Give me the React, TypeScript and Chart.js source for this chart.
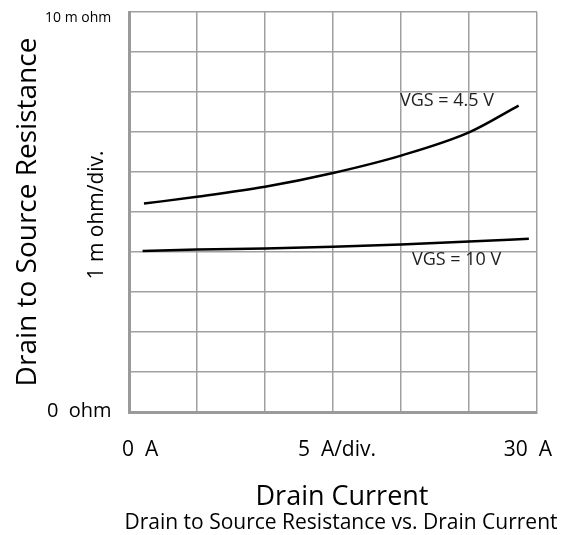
import React, { useEffect, useRef } from "react";
import { Chart, registerables } from "chart.js";

Chart.register(...registerables);

const currentA = [1.1, 5, 10, 15, 20, 25, 28.65];
const rdsVgs45 = [5.21, 5.38, 5.63, 5.975, 6.41, 6.99, 7.66];
const currentB = [1.0, 5, 10, 15, 20, 25, 29.4];
const rdsVgs10 = [4.025, 4.06, 4.09, 4.13, 4.19, 4.26, 4.33];
const seriesLabels = ["VGS = 4.5 V", "VGS = 10 V"];
const xTickLabels = ["0  A", "5  A/div.", "30  A"];
const yTickLabels = ["0  ohm", "10 m ohm"];
const xTitle = "Drain Current";
const yTitle = "Drain to Source Resistance";
const yDivLabel = "1 m ohm/div.";
const chartTitle = "Drain to Source Resistance vs. Drain Current";

const FONT = "'Open Sans', 'Noto Sans', sans-serif";

const textPlugin = {
  id: "textPlugin",
  afterDraw(chart: any) {
    const { ctx } = chart;
    const xs = chart.scales.x;
    const ys = chart.scales.y;
    ctx.save();
    ctx.fillStyle = "#000";
    ctx.textBaseline = "middle";
    // x tick labels
    ctx.font = `21px ${FONT}`;
    ctx.textAlign = "left";
    ctx.fillText(xTickLabels[0], xs.getPixelForValue(0) - 7, 450);
    ctx.textAlign = "center";
    ctx.fillText(xTickLabels[1], xs.getPixelForValue(15) + 4, 450);
    ctx.textAlign = "right";
    ctx.fillText(xTickLabels[2], xs.getPixelForValue(30) + 15, 450);
    // y tick labels
    ctx.textAlign = "left";
    ctx.font = `20px ${FONT}`;
    ctx.fillText(yTickLabels[0], 47, ys.getPixelForValue(0) - 1);
    ctx.font = `14px ${FONT}`;
    ctx.fillText(yTickLabels[1], 45, ys.getPixelForValue(10) + 6);
    // series labels
    ctx.font = `18px ${FONT}`;
    ctx.fillStyle = "#222";
    ctx.fillText(seriesLabels[0], 400, 101);
    ctx.fillText(seriesLabels[1], 412, 260);
    ctx.fillStyle = "#000";
    // titles
    ctx.textAlign = "center";
    ctx.font = `27px ${FONT}`;
    ctx.fillText(xTitle, 342, 497);
    ctx.font = `21px ${FONT}`;
    ctx.fillText(chartTitle, 341, 523);
    // rotated
    ctx.save();
    ctx.translate(28, 212);
    ctx.rotate(-Math.PI / 2);
    ctx.font = `28px ${FONT}`;
    ctx.fillText(yTitle, 0, 0);
    ctx.restore();
    ctx.save();
    ctx.translate(97, 215);
    ctx.rotate(-Math.PI / 2);
    ctx.font = `21px ${FONT}`;
    ctx.fillText(yDivLabel, 0, 0);
    ctx.restore();
    ctx.restore();
  },
};

export default function App() {
  const ref = useRef<HTMLCanvasElement>(null);
  useEffect(() => {
    document.body.style.margin = "0";
    const chart = new Chart(ref.current!, {
      type: "line",
      data: {
        datasets: [
          {
            label: seriesLabels[0],
            data: currentA.map((x, i) => ({ x, y: rdsVgs45[i] })),
            borderColor: "#000",
            borderWidth: 2.5,
            pointRadius: 0,
            cubicInterpolationMode: "monotone",
          },
          {
            label: seriesLabels[1],
            data: currentB.map((x, i) => ({ x, y: rdsVgs10[i] })),
            borderColor: "#000",
            borderWidth: 2.5,
            pointRadius: 0,
            cubicInterpolationMode: "monotone",
          },
        ],
      },
      options: {
        animation: false,
        responsive: false,
        devicePixelRatio: 1,
        layout: { padding: { left: 129, top: 12, right: 24, bottom: 123 } },
        plugins: { legend: { display: false }, tooltip: { enabled: false } },
        scales: {
          x: {
            type: "linear",
            min: 0,
            max: 30,
            ticks: { stepSize: 5, display: false },
            grid: { color: "#a0a0a0", lineWidth: 1.5, drawTicks: false },
            border: { color: "#9a9a9a", width: 3 },
          },
          y: {
            type: "linear",
            min: 0,
            max: 10,
            ticks: { stepSize: 1, display: false },
            grid: { color: "#a0a0a0", lineWidth: 1.5, drawTicks: false },
            border: { color: "#9a9a9a", width: 3 },
          },
        },
      },
      plugins: [textPlugin],
    });
    return () => chart.destroy();
  }, []);
  return (
    <div style={{ position: "fixed", left: 0, top: 0, width: 561, height: 535, background: "#fff" }}>
      <canvas ref={ref} width={561} height={535} style={{ width: 561, height: 535 }} />
    </div>
  );
}
